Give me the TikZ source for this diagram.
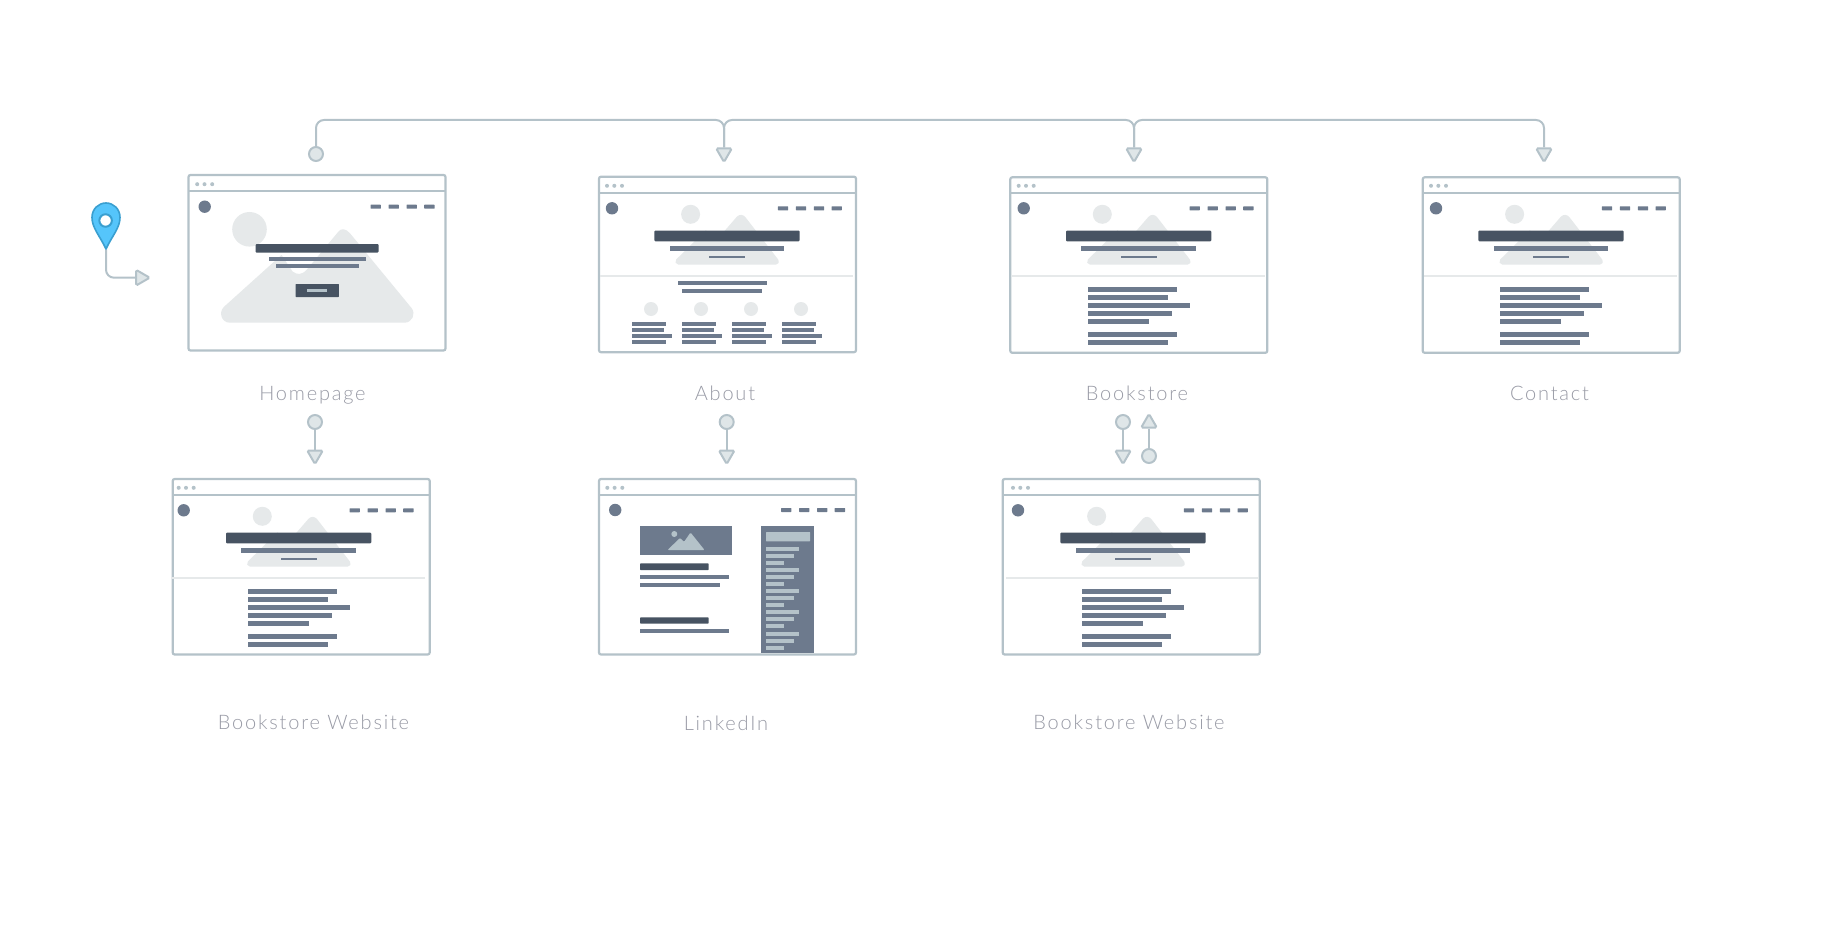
\documentclass[tikz,border=0pt]{standalone}
\usepackage{fontspec}
\setmainfont{Lato}[UprightFont=* Light,LetterSpace=9]
\usetikzlibrary{shapes.geometric}

\definecolor{frame_gray}{HTML}{B4C2C9}
\definecolor{soft_fill}{HTML}{DFE6E8}
\definecolor{pale_gray}{HTML}{E6E9EA}
\definecolor{dark_slate}{HTML}{475362}
\definecolor{mid_slate}{HTML}{6D7A8D}
\definecolor{label_gray}{HTML}{989AA5}
\definecolor{pin_blue}{HTML}{55C5FB}
\definecolor{pin_line}{HTML}{3A9FD0}

% frame and title bar
\newcommand{\browser}[3]{
	\node[window_box] (#1) at (#2,#3) {};
	\draw[frame_line] (#2,#3+16) -- (#2+257,#3+16);
}
% three dots of the title bar
\newcommand{\pagedots}[2]{
	\foreach \dotx in {8.7,16,23.7}
		\fill[frame_gray] (#1+\dotx,#2+8.5) circle (2);
}
% logo and menu
\newcommand{\pagemenu}[2]{
	\fill[mid_slate] (#1+13.7,#2+31) circle (6.2);
	\foreach \navx in {179.5,197.5,215.5,233.2}
		\fill[mid_slate,rounded corners=0.5] (#1+\navx,#2+29) rectangle ++(10.4,4);
}
% small hero with the rule under it
\newcommand{\pagehero}[2]{
	\begin{scope}[shift={(#1,#2)}]
		\fill[pale_gray] (92.3,37) circle (9.5);
		\fill[pale_gray] (80,87.3) .. controls (77.3,87.3) and (76,84.1) .. (77.9,82.2) -- (107.5,53) -- (119,62) -- (138.5,39.5) .. controls (141,36.8) and (145,36.8) .. (147.5,40.4) -- (180.1,82.5) .. controls (181.6,84.5) and (180.2,87.3) .. (177.7,87.3) -- cycle;
		\fill[dark_slate,rounded corners=1] (56,53.3) rectangle (201.3,64);
		\fill[mid_slate] (71.3,68.3) rectangle (186,73.7);
		\fill[mid_slate] (110.7,79) rectangle (146.7,80.4);
		\draw[pale_gray,line width=1.6] (2,98.7) -- (255,98.7);
	\end{scope}
}
% paragraph lines
\newcommand{\pagetext}[2]{
	\begin{scope}[shift={(#1,#2)}]
		\foreach \liney/\linew in {112/89,120/80,128.3/102,136.3/84.3,144.3/61.3,157/89,165.3/80}
			\fill[mid_slate] (77.7,\liney-2.2) rectangle ++(\linew,4.4);
	\end{scope}
}
\newcommand{\fullpage}[5]{
	\browser{#1}{#2}{#3}
	\pagedots{#4}{#5}
	\pagemenu{#4}{#5}
	\pagehero{#4}{#5}
}

\begin{document}
\begin{tikzpicture}[x=1pt,y=-1pt,
	window_box/.style={rectangle,anchor=north west,draw=frame_gray,fill=white,line width=2.2pt,rounded corners=2pt,minimum width=257pt,minimum height=175.5pt,inner sep=0pt,outer sep=0pt},
	frame_line/.style={draw=frame_gray,line width=2.2pt},
	link/.style={draw=frame_gray,line width=2pt,rounded corners=8pt},
	start_dot/.style={circle,draw=frame_gray,fill=soft_fill,line width=2pt,minimum size=14pt,inner sep=0pt},
	end_tip/.style={regular polygon,regular polygon sides=3,draw=frame_gray,fill=soft_fill,line width=2pt,minimum size=18pt,inner sep=0pt,rounded corners=1.5pt},
	tip_down/.style={end_tip,shape border rotate=180},
	tip_up/.style={end_tip},
	tip_right/.style={end_tip,shape border rotate=-90},
	page_label/.style={anchor=base,text=label_gray,font=\fontsize{20}{24}\selectfont,inner sep=0pt}]

	\useasboundingbox (0,0) rectangle (1828,928);

	% homepage
	\browser{homepage}{188.5}{175}
	\pagedots{188.5}{175.7}
	\pagemenu{191}{175.7}
	\begin{scope}[shift={(188.5,175)}]
		\fill[pale_gray] (61,54.3) circle (17.3);
		\fill[pale_gray] (41.3,147.7) .. controls (33.1,147.7) and (29.8,137.5) .. (35.3,132) -- (93,80) -- (104,96.5) .. controls (109,100) and (113,100) .. (118,95) -- (150,56.5) .. controls (152.5,53.2) and (157,53.2) .. (161.5,58.3) -- (223,133) .. controls (227.8,138.9) and (223.6,147.7) .. (216,147.7) -- cycle;
		\fill[dark_slate,rounded corners=1] (67,69) rectangle (190,77.7);
		\fill[mid_slate] (80,81.7) rectangle (177,85.7);
		\fill[mid_slate] (87,89) rectangle (170,93.3);
		\fill[dark_slate,rounded corners=0.5] (107,109) rectangle (150.3,122);
		\fill[frame_gray] (118.7,114) rectangle (138.7,117);
	\end{scope}

	% about
	\fullpage{about}{599}{176.7}{598.3}{177.3}
	\begin{scope}[shift={(598.3,177.3)}]
		\fill[mid_slate] (79.7,104) rectangle ++(89,4);
		\fill[mid_slate] (83.7,111.5) rectangle ++(80,4);
		\foreach \colx in {0,50,100,150} {
			\fill[pale_gray] (52.7+\colx,131.7) circle (7);
			\foreach \liney/\linew in {147/34,153/32,159/40,165/34}
				\fill[mid_slate] (33.7+\colx,\liney-2) rectangle ++(\linew,4);
		}
	\end{scope}

	% bookstore and contact
	\fullpage{bookstore}{1010.3}{177.3}{1010}{177.3}
	\pagetext{1010}{177.3}
	\fullpage{contact}{1422.7}{177.3}{1422.3}{177.3}
	\pagetext{1422.3}{177.3}

	% second row
	\fullpage{website_a}{172.7}{479}{170}{479.3}
	\pagetext{170}{479.3}
	\fullpage{website_b}{1002.7}{479}{1004.3}{479.3}
	\pagetext{1004.3}{479.3}

	% linkedin
	\browser{linkedin}{599}{479}
	\pagedots{598.6}{479.3}
	\pagemenu{601.5}{479}
	\begin{scope}[shift={(599,479)}]
		\fill[mid_slate] (41,47) rectangle (133,76);
		\fill[frame_gray] (75.3,55) circle (3);
		\fill[frame_gray,rounded corners=1] (68.5,71) -- (81,59) -- (85,63) -- (91.5,53.5) -- (105.5,71) -- cycle;
		\fill[dark_slate,rounded corners=0.7] (41,84.3) rectangle (109.7,91);
		\fill[mid_slate] (41,96) rectangle (130,100.3);
		\fill[mid_slate] (41,104) rectangle (121,108.3);
		\fill[dark_slate,rounded corners=0.7] (41,138.3) rectangle (109.7,144.7);
		\fill[mid_slate] (41,150) rectangle (130,154.3);
		\fill[mid_slate] (162.3,47) rectangle (215,174.3);
		\fill[frame_gray,rounded corners=0.5] (167,53) rectangle (211,62.3);
		\foreach \liney/\linew in {69.7/33,76.7/28.3,83.7/18,90.7/33,97.7/28.3,104.7/18,112/33,119/28.3,126/18,133/33,140/28.3,147/18,154.5/33,161.5/28.3,168.5/18}
			\fill[frame_gray] (167,\liney-2) rectangle ++(\linew,4);
	\end{scope}

	% labels
	\node[page_label] (label_home) at (312.5,400) {Homepage};
	\node[page_label] (label_about) at (725,400) {About};
	\node[page_label] (label_book) at (1137,400) {Bookstore};
	\node[page_label] (label_contact) at (1549.5,400) {Contact};
	\node[page_label] (label_site_a) at (313.5,729) {Bookstore Website};
	\node[page_label] (label_link) at (726,730) {LinkedIn};
	\node[page_label] (label_site_b) at (1129,729) {Bookstore Website};

	% pin
	\draw[fill=pin_blue,draw=pin_line,line width=1.6pt] (106,249) .. controls (100,236) and (92,228) .. (92,217.5) .. controls (92,209) and (98.5,203) .. (106,203) .. controls (113.5,203) and (120,209) .. (120,217.5) .. controls (120,228) and (112,236) .. cycle;
	\node[circle,draw=pin_line,fill=white,line width=2pt,minimum size=12.5pt,inner sep=0pt] (pin_hole) at (105.6,220.5) {};
	\coordinate (pin_tip) at (106,249.5);
	\node[tip_right] (pin_end) at (140.7,277.7) {};
	\draw[link] (pin_tip) |- (pin_end.west);

	% top connectors
	\node[start_dot] (home_dot) at (316,154) {};
	\node[tip_down] (about_tip) at (724,153) {};
	\node[tip_down] (book_tip) at (1134,153) {};
	\node[tip_down] (contact_tip) at (1544,153) {};
	\coordinate (bus_about) at (724,120);
	\coordinate (bus_book) at (1134,120);
	\coordinate (bus_contact) at (1544,120);
	\draw[link] (home_dot.north) |- (bus_about) -- (about_tip.north);
	\draw[link] (about_tip.north) |- (bus_book) -- (book_tip.north);
	\draw[link] (book_tip.north) |- (bus_contact) -- (contact_tip.north);

	% lower connectors
	\node[start_dot] (site_a_dot) at (315,422) {};
	\node[tip_down] (site_a_tip) at (315,455) {};
	\node[start_dot] (link_dot) at (726.7,422) {};
	\node[tip_down] (link_tip) at (726.7,455) {};
	\node[start_dot] (site_b_dot) at (1123,422) {};
	\node[tip_down] (site_b_tip) at (1123,455) {};
	\node[tip_up] (back_tip) at (1149,423) {};
	\node[start_dot] (back_dot) at (1149,456) {};
	\draw[link] (site_a_dot) -- (site_a_tip.north);
	\draw[link] (link_dot) -- (link_tip.north);
	\draw[link] (site_b_dot) -- (site_b_tip.north);
	\draw[link] (back_dot) -- (back_tip.south);
\end{tikzpicture}
\end{document}
